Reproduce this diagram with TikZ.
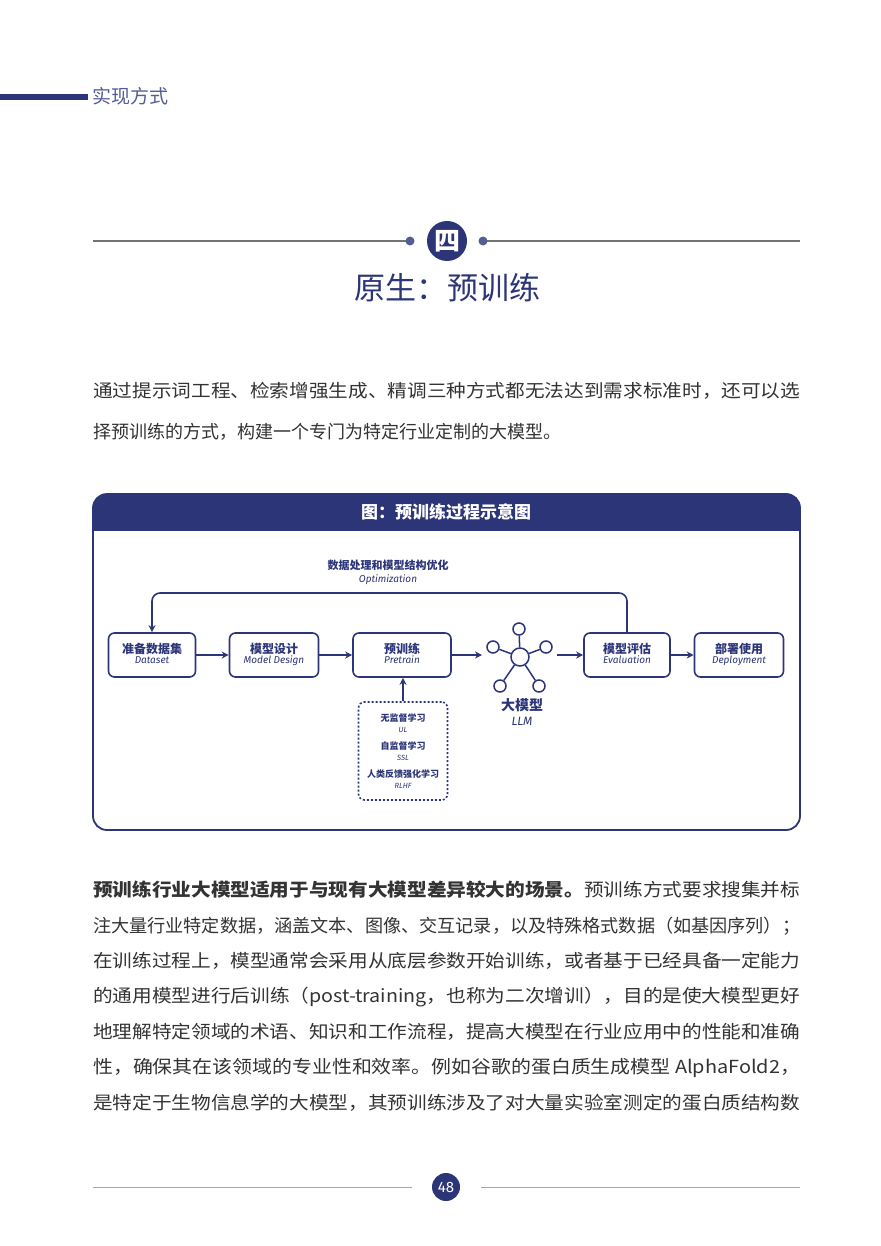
\documentclass[tikz,border=0pt]{standalone}
\usepackage{fontspec}
\usepackage{graphicx}
\setmainfont{Noto Sans CJK SC}
\newfontfamily\lat{Fira Sans}
\newcommand{\zhfont}{\fontsize{12}{13}\selectfont\bfseries\itshape}
\newsavebox\lnbox
\newcommand\fitline[1]{\sbox\lnbox{#1}\resizebox{707pt}{\ht\lnbox}{\usebox\lnbox}}
\usetikzlibrary{arrows.meta}
\definecolor{navy}{HTML}{2C3578}
\definecolor{txt}{HTML}{333333}
\begin{document}
\begin{tikzpicture}[x=1pt,y=-1pt,
  box/.style={draw=navy,line width=1.6pt,rounded corners=6pt,minimum height=44pt,inner sep=0pt,align=center,text=navy},
  arr/.style={-{Stealth[length=7pt,width=7pt]},draw=navy,line width=1.6pt},
  body/.style={anchor=west,font=\fontsize{18}{20}\selectfont,text=txt,inner sep=0pt}]
\useasboundingbox (0,0) rectangle (880,1246);
\fill[white] (0,0) rectangle (880,1246);
% header
\fill[navy] (0,94) rectangle (88,100);
\node[anchor=west,text=navy!80,font=\fontsize{19}{20}\selectfont,inner sep=0pt] (hd) at (92,96) {实现方式};
% chapter mark
\draw[gray!90!black,line width=1.5pt] (93,241) -- (410,241) (483,241) -- (800,241);
\fill[navy!80] (410,241) circle (4.5) (483,241) circle (4.5);
\node[circle,fill=navy,minimum size=40pt,inner sep=0pt,text=white,font=\fontsize{26}{26}\selectfont\bfseries] (ch) at (447,241) {四};
\node[text=navy,font=\fontsize{31}{32}\selectfont] (ti) at (447,288) {原生：预训练};
% intro
\node[body] (p1) at (93,391) {\fitline{通过提示词工程、检索增强生成、精调三种方式都无法达到需求标准时，还可以选}};
\node[body] (p2) at (93,432) {择预训练的方式，构建一个专门为特定行业定制的大模型。};
% frame
\draw[navy,line width=1.8pt,rounded corners=14pt] (93,494) rectangle (800,830);
\begin{scope}
\clip[rounded corners=14pt] (93,494) rectangle (800,830);
\fill[navy] (93,494) rectangle (800,531);
\end{scope}
\node[text=white,font=\fontsize{17}{18}\selectfont\bfseries] (ft) at (446,512) {图：预训练过程示意图};
% boxes
\node[box,minimum width=87pt] (ds) at (152,655) {\begin{tabular}{@{}c@{}}{\zhfont 准备数据集}\\[-2pt]{\lat\fontsize{10}{12}\selectfont\itshape Dataset}\end{tabular}};
\node[box,minimum width=89pt] (md) at (274,655) {\begin{tabular}{@{}c@{}}{\zhfont 模型设计}\\[-2pt]{\lat\fontsize{10}{12}\selectfont\itshape Model Design}\end{tabular}};
\node[box,minimum width=98pt] (pt) at (402,655) {\begin{tabular}{@{}c@{}}{\zhfont 预训练}\\[-2pt]{\lat\fontsize{10}{12}\selectfont\itshape Pretrain}\end{tabular}};
\node[box,minimum width=86pt] (ev) at (627,655) {\begin{tabular}{@{}c@{}}{\zhfont 模型评估}\\[-2pt]{\lat\fontsize{10}{12}\selectfont\itshape Evaluation}\end{tabular}};
\node[box,minimum width=89pt] (dp) at (739,655) {\begin{tabular}{@{}c@{}}{\zhfont 部署使用}\\[-2pt]{\lat\fontsize{10}{12}\selectfont\itshape Deployment}\end{tabular}};
% llm icon
\node[circle,draw=navy,line width=1.5pt,minimum size=18pt,inner sep=0pt] (c0) at (520,657) {};
\foreach \n/\p in {c1/{(519,629)},c2/{(493,647)},c3/{(546,647)},c4/{(500,686)},c5/{(539,686)}}{
  \node[circle,draw=navy,line width=1.5pt,minimum size=12pt,inner sep=0pt] (\n) at \p {};
  \draw[navy,line width=1.5pt] (c0) -- (\n);}
\node[text=navy,font=\fontsize{14}{14}\selectfont\bfseries\itshape] (lz) at (522,705) {大模型};
\node[text=navy,font=\lat\fontsize{12}{12}\selectfont\itshape] (le) at (522,721) {LLM};
% dashed box
\node[draw=navy,line width=1.6pt,dash pattern=on 2pt off 2pt,rounded corners=6pt,minimum width=89pt,minimum height=98pt,inner sep=0pt] (lb) at (403,751) {};
\node[text=navy,align=center,inner sep=0pt] (lt) at (403,751) {{\fontsize{9}{10}\selectfont\bfseries\itshape 无监督学习}\\[-1pt]{\lat\fontsize{7.5}{9}\selectfont\itshape UL}\\[5pt]
{\fontsize{9}{10}\selectfont\bfseries\itshape 自监督学习}\\[-1pt]{\lat\fontsize{7.5}{9}\selectfont\itshape SSL}\\[5pt]
{\fontsize{9}{10}\selectfont\bfseries\itshape 人类反馈强化学习}\\[-1pt]{\lat\fontsize{7.5}{9}\selectfont\itshape RLHF}};
% arrows
\draw[arr] (ds) -- (md);
\draw[arr] (md) -- (pt);
\draw[arr] (pt.east) -- (482,655);
\draw[arr] (557,655) -- (ev.west);
\draw[arr] (ev) -- (dp);
\draw[arr] (lb.north) -- (lb.north |- pt.south);
\draw[arr,rounded corners=8pt] (ev.north) -- (627,593) -- (152,593) -- (ds.north);
\node[text=navy,font=\fontsize{11}{12}\selectfont\bfseries\itshape] (ol) at (388,565) {数据处理和模型结构优化};
\node[text=navy,font=\lat\fontsize{10}{12}\selectfont\itshape] (oe) at (388,580) {Optimization};
% body text
\node[body] (b1) at (93,890) {\fitline{\textbf{预训练行业大模型适用于与现有大模型差异较大的场景。}预训练方式要求搜集并标}};
\node[body] (b2) at (93,926) {\fitline{注大量行业特定数据，涵盖文本、图像、交互记录，以及特殊格式数据（如基因序列）；}};
\node[body] (b3) at (93,961) {\fitline{在训练过程上，模型通常会采用从底层参数开始训练，或者基于已经具备一定能力}};
\node[body] (b4) at (93,997) {\fitline{的通用模型进行后训练（post-training，也称为二次增训），目的是使大模型更好}};
\node[body] (b5) at (93,1032) {\fitline{地理解特定领域的术语、知识和工作流程，提高大模型在行业应用中的性能和准确}};
\node[body] (b6) at (93,1068) {\fitline{性，确保其在该领域的专业性和效率。例如谷歌的蛋白质生成模型 AlphaFold2，}};
\node[body] (b7) at (93,1103) {\fitline{是特定于生物信息学的大模型，其预训练涉及了对大量实验室测定的蛋白质结构数}};
% footer
\draw[gray!70,line width=0.8pt] (93,1187) -- (412,1187) (481,1187) -- (800,1187);
\node[circle,fill=navy,minimum size=28pt,inner sep=0pt,text=white,font=\lat\fontsize{15}{15}\selectfont] (pg) at (446,1187) {48};
\end{tikzpicture}
\end{document}
